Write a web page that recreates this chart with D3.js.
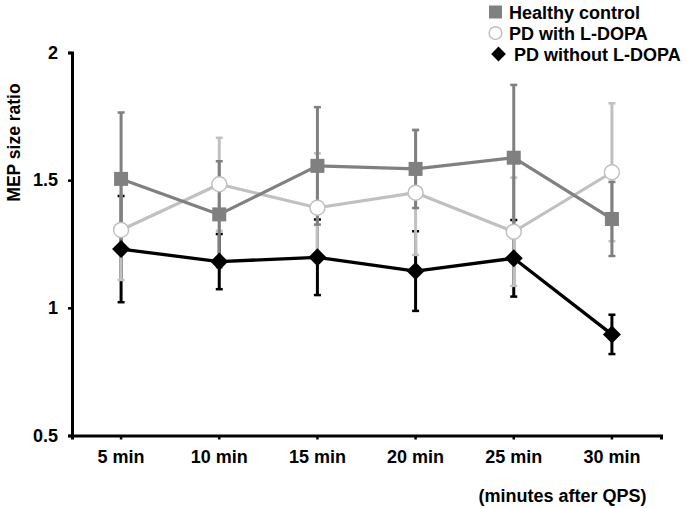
<!DOCTYPE html>
<html>
<head>
<meta charset="utf-8">
<script src="https://cdn.jsdelivr.net/npm/d3@7"></script>
<style>
  html, body { margin: 0; padding: 0; background: #fff; }
  svg { display: block; font-family: "Liberation Sans", Arial, sans-serif; }
</style>
</head>
<body>
<svg id="chart" width="686" height="508"></svg>
<script>
const categories = ["5 min", "10 min", "15 min", "20 min", "25 min", "30 min"];
const yTicks = [0.5, 1, 1.5, 2];
const seriesNames = ["Healthy control", "PD with L-DOPA", "PD without L-DOPA"];
const healthyMean = [1.505, 1.366, 1.556, 1.544, 1.588, 1.348];
const healthyErr  = [0.260, 0.208, 0.230, 0.153, 0.285, 0.145];
const withMean    = [1.305, 1.484, 1.392, 1.451, 1.298, 1.531];
const withErr     = [0.196, 0.182, 0.213, 0.244, 0.212, 0.270];
const withoutMean = [1.230, 1.181, 1.198, 1.144, 1.194, 0.896];
const withoutErr  = [0.208, 0.108, 0.148, 0.156, 0.150, 0.077];
const yTitle = "MEP size ratio";
const xTitle = "(minutes after QPS)";

const svg = d3.select("#chart");
svg.append("rect").attr("width", 686).attr("height", 508).attr("fill", "#fff");

const x = d3.scaleBand().domain(categories).range([72, 661]).padding(0);
const y = d3.scaleLinear().domain([0.5, 2]).range([435.5, 52.5]);
const cx = c => x(c) + x.bandwidth() / 2;

const series = [
  { name: seriesNames[2], mean: withoutMean, err: withoutErr, color: "#000000", shape: "diamond", lw: 3.3 },
  { name: seriesNames[1], mean: withMean, err: withErr, color: "#c0c0c0", shape: "circle", lw: 3.2 },
  { name: seriesNames[0], mean: healthyMean, err: healthyErr, color: "#808080", shape: "square", lw: 3.2 }
];

// error bars
series.forEach(s => {
  const g = svg.append("g");
  categories.forEach((c, i) => {
    const lo = s.mean[i] - s.err[i], hi = s.mean[i] + s.err[i];
    g.append("line").attr("x1", cx(c)).attr("x2", cx(c))
      .attr("y1", y(lo)).attr("y2", y(hi))
      .attr("stroke", s.color).attr("stroke-width", 3);
    [lo, hi].forEach(v => {
      g.append("line").attr("x1", cx(c) - 3.5).attr("x2", cx(c) + 3.5)
        .attr("y1", y(v)).attr("y2", y(v))
        .attr("stroke", s.color).attr("stroke-width", 2.5);
    });
  });
});

// lines
series.forEach(s => {
  const line = d3.line().x((d, i) => cx(categories[i])).y(d => y(d));
  svg.append("path").datum(s.mean).attr("d", line)
    .attr("fill", "none").attr("stroke", s.color).attr("stroke-width", s.lw)
    .attr("stroke-linejoin", "round");
});

function drawMarker(g, shape, px, py, scale) {
  scale = scale || 1;
  if (shape === "square") {
    const h = 7 * scale;
    g.append("rect").attr("x", px - h).attr("y", py - h).attr("width", 2 * h).attr("height", 2 * h)
      .attr("fill", "#808080");
  } else if (shape === "circle") {
    g.append("circle").attr("cx", px).attr("cy", py).attr("r", 7.5 * scale)
      .attr("fill", "#fff").attr("stroke", "#c0c0c0").attr("stroke-width", 1.5);
  } else {
    const h = 9 * scale;
    g.append("path").attr("d", `M${px},${py - h}L${px + h},${py}L${px},${py + h}L${px - h},${py}Z`)
      .attr("fill", "#000");
  }
}

// markers
series.forEach(s => {
  const g = svg.append("g");
  categories.forEach((c, i) => drawMarker(g, s.shape, cx(c), y(s.mean[i])));
});

// axes
const yAxis = d3.axisLeft(y).tickValues(yTicks).tickFormat(d3.format("")).tickSize(4).tickPadding(10);
const xAxis = d3.axisBottom(x).tickSize(4).tickSizeOuter(4).tickPadding(10.5);

const gy = svg.append("g").attr("transform", "translate(72,0)").call(yAxis);
const gx = svg.append("g").attr("transform", "translate(0,435.5)").call(xAxis);
[gx, gy].forEach(g => {
  g.selectAll("path.domain").attr("stroke", "#000").attr("stroke-width", 3);
  g.selectAll(".tick line").attr("stroke", "#000").attr("stroke-width", 2.5);
  g.selectAll("text").attr("fill", "#000").attr("font-size", 18).attr("font-weight", "bold")
    .attr("font-family", "'Liberation Sans', Arial, sans-serif");
});

svg.append("text").attr("transform", "translate(19.5,142.5) rotate(-90)")
  .attr("text-anchor", "middle").attr("font-size", 17.5).attr("font-weight", "bold").text(yTitle);

svg.append("text").attr("x", 562.5).attr("y", 502)
  .attr("text-anchor", "middle").attr("font-size", 18).attr("font-weight", "bold").text(xTitle);

// legend
const legend = svg.append("g");
const legendItems = [
  { name: seriesNames[0], shape: "square", mx: 495.5, my: 12, tx: 509, ty: 18.5 },
  { name: seriesNames[1], shape: "circle", mx: 495.5, my: 33, tx: 509, ty: 39.5 },
  { name: seriesNames[2], shape: "diamond", mx: 498.5, my: 54, tx: 514, ty: 60.5 }
];
legendItems.forEach(it => {
  drawMarker(legend, it.shape, it.mx, it.my, it.shape === "diamond" ? 0.82 : (it.shape === "circle" ? 0.85 : 0.93));
  legend.append("text").attr("x", it.tx).attr("y", it.ty).attr("font-size", 18)
    .attr("font-weight", "bold").text(it.name);
});
</script>
</body>
</html>
